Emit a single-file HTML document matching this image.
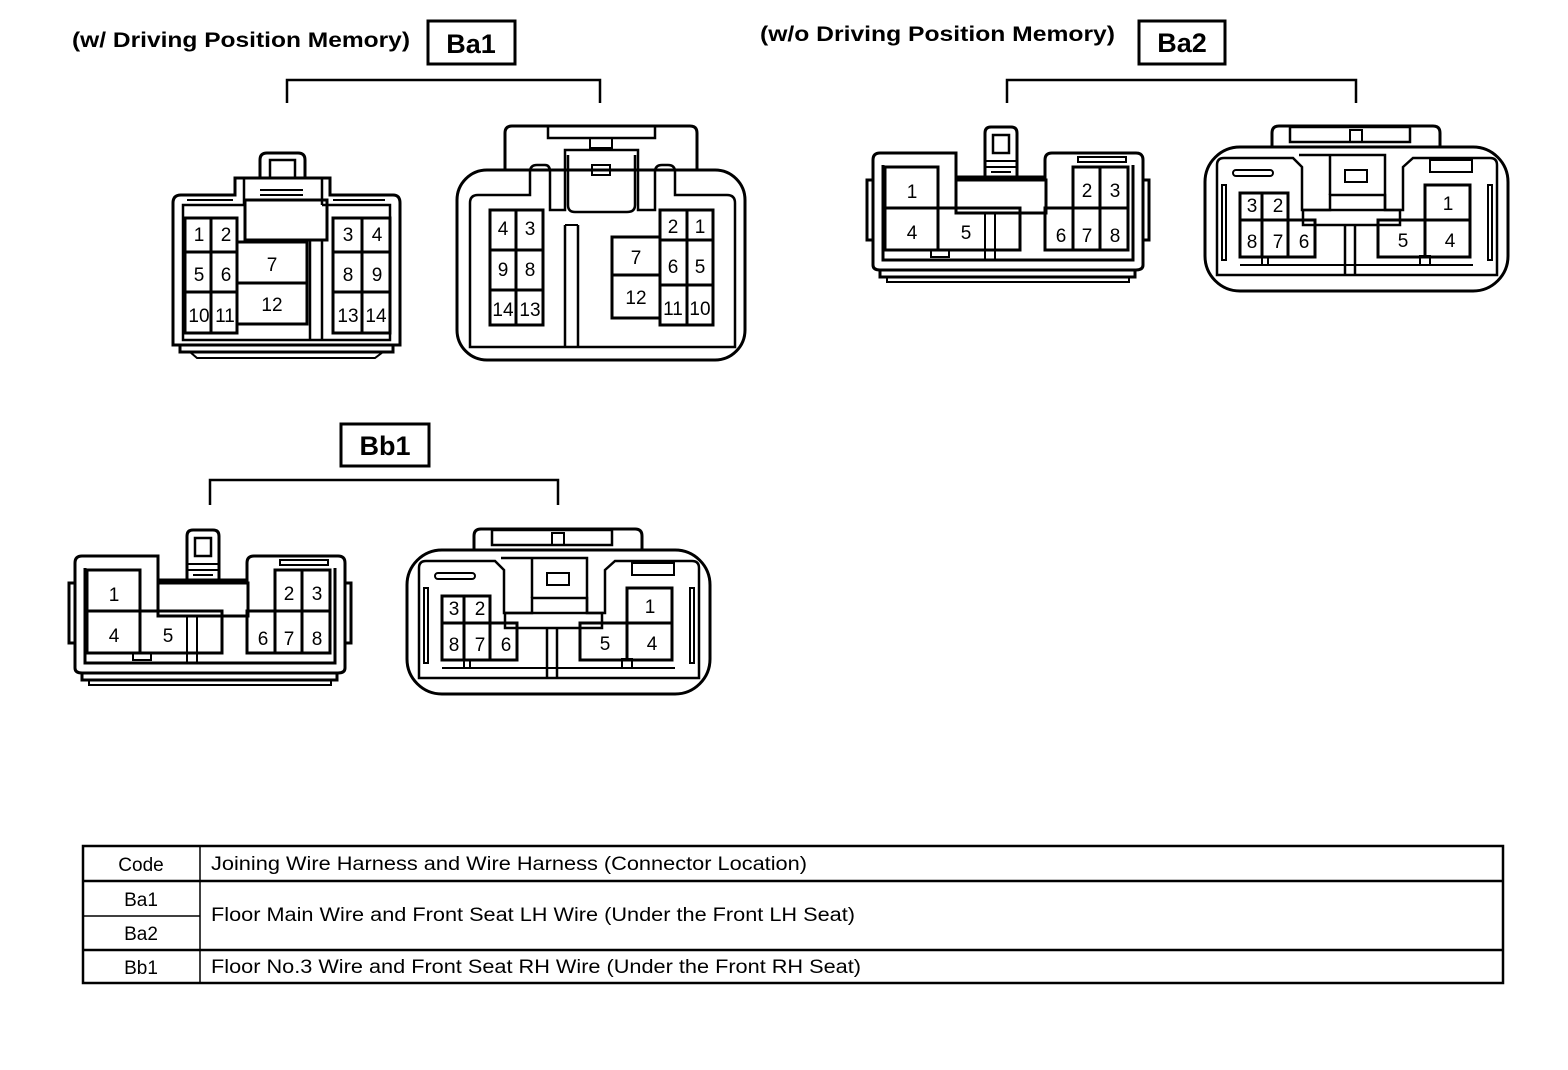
<!DOCTYPE html>
<html><head><meta charset="utf-8"><style>
html,body{margin:0;padding:0;background:#fff}
svg{display:block}
text{font-family:"Liberation Sans",Arial,sans-serif;fill:#000}
</style></head><body>
<svg width="1568" height="1070" viewBox="0 0 1568 1070" xmlns="http://www.w3.org/2000/svg">
<defs>
<g id="ba2" fill="none" stroke="#000" stroke-width="3">
  <path d="M0 35 Q0 28 7 28 H83 V52 H172 V35 Q172 28 179 28 H263 Q270 28 270 35 V140 Q270 145 263 145 H7 Q0 145 0 140 Z"/>
  <path d="M7 145 V152 H262 V145"/>
  <path d="M14 152 V157 H256 V152" stroke-width="2"/>
  <rect x="-6" y="55" width="6" height="60"/>
  <rect x="270" y="55" width="6" height="60"/>
  <path d="M10 40 V135 H260 V40"/>
  <rect x="12" y="42" width="53" height="83"/>
  <line x1="12" y1="83" x2="147" y2="83"/>
  <rect x="65" y="83" width="82" height="42"/>
  <rect x="83" y="55" width="90" height="33"/>
  <path d="M112 52 V8 Q112 2 118 2 H138 Q144 2 144 8 V52"/>
  <rect x="120" y="10" width="16" height="18" stroke-width="2.5"/>
  <path d="M113 36 H143 M113 42 H143 M118 47 H138" stroke-width="2"/>
  <path d="M112 88 V135 M122 88 V135" stroke-width="2"/>
  <rect x="58" y="125" width="18" height="7" stroke-width="2"/>
  <rect x="200" y="42" width="55" height="41"/>
  <line x1="227" y1="42" x2="227" y2="125"/>
  <rect x="172" y="83" width="83" height="42"/>
  <line x1="200" y1="83" x2="200" y2="125"/>
  <rect x="205" y="32" width="48" height="5" stroke-width="2"/>
</g>
<g id="ba2r" fill="none" stroke="#000" stroke-width="3">
  <rect x="0" y="22" width="303" height="144" rx="35"/>
  <path d="M67 22 V8 Q67 1 74 1 H228 Q235 1 235 8 V22"/>
  <rect x="85" y="2" width="120" height="15" stroke-width="2.5"/>
  <rect x="145" y="5" width="12" height="12" stroke-width="2"/>
  <path d="M12 40 Q12 33 19 33 H88 L97 42 V85 H125 V70 H180 V85 H198 V42 L208 33 H285 Q292 33 292 40 V150 H12 Z" stroke-width="2.5"/>
  <path d="M94 30 H180 V85" stroke-width="2.5"/>
  <path d="M125 30 V70" stroke-width="2.5"/>
  <rect x="140" y="45" width="22" height="12" stroke-width="2"/>
  <rect x="28" y="45" width="40" height="6" rx="3" stroke-width="2"/>
  <rect x="225" y="35" width="42" height="12" stroke-width="2"/>
  <rect x="17" y="60" width="4" height="75" stroke-width="2"/>
  <rect x="283" y="60" width="4" height="75" stroke-width="2"/>
  <rect x="35" y="68" width="48" height="27"/>
  <line x1="57" y1="68" x2="57" y2="132"/>
  <rect x="35" y="95" width="75" height="37"/>
  <line x1="83" y1="95" x2="83" y2="132"/>
  <rect x="220" y="60" width="45" height="35"/>
  <rect x="173" y="95" width="92" height="37"/>
  <line x1="220" y1="95" x2="220" y2="132"/>
  <path d="M98 85 H195 V100 H98 Z" stroke-width="2.5"/>
  <path d="M140 100 V150 M150 100 V150" stroke-width="2.5"/>
  <path d="M35 140 H268" stroke-width="2"/>
  <rect x="57" y="132" width="6" height="8" stroke-width="2"/>
  <rect x="215" y="131" width="10" height="9" stroke-width="2"/>
</g>
</defs>

<text x="72" y="47" font-size="21" font-weight="bold" textLength="338" lengthAdjust="spacingAndGlyphs">(w/ Driving Position Memory)</text>
<rect x="428" y="21" width="87" height="43" fill="none" stroke="#000" stroke-width="3"/>
<text x="471" y="53" font-size="27" font-weight="bold" text-anchor="middle">Ba1</text>
<text x="760" y="41" font-size="21" font-weight="bold" textLength="355" lengthAdjust="spacingAndGlyphs">(w/o Driving Position Memory)</text>
<rect x="1139" y="21" width="86" height="43" fill="none" stroke="#000" stroke-width="3"/>
<text x="1182" y="52" font-size="27" font-weight="bold" text-anchor="middle">Ba2</text>
<rect x="341" y="424" width="88" height="42" fill="none" stroke="#000" stroke-width="3"/>
<text x="385" y="455" font-size="27" font-weight="bold" text-anchor="middle">Bb1</text>

<g fill="none" stroke="#000" stroke-width="2.5">
<path d="M287 103 V80 H600 V103"/>
<path d="M1007 103 V80 H1356 V103"/>
<path d="M210 505 V480 H558 V505"/>
</g>

<!-- Ba1 left -->
<g fill="none" stroke="#000" stroke-width="3">
  <path d="M173 203 Q173 195 181 195 H235 V178 H330 V195 H393 Q400 195 400 203 V345 H173 Z"/>
  <path d="M180 345 V352 H393 V345"/>
  <path d="M190 352 L197 358 H375 L383 352" stroke-width="2"/>
  <path d="M260 178 V160 Q260 153 267 153 H298 Q305 153 305 160 V178"/>
  <rect x="270" y="160" width="25" height="18" stroke-width="2.5"/>
  <path d="M244 178 V205 M322 178 V205" stroke-width="2.5"/>
  <path d="M244 205 H183 V340 H390 V205 H322" stroke-width="2.5"/>
  <path d="M187 200 H233 M333 200 H385" stroke-width="2"/>
  <rect x="245" y="200" width="82" height="40"/>
  <path d="M260 190 H303 M260 195 H303" stroke-width="2"/>
  <path d="M310 240 V340 M322 240 V340" stroke-width="2.5"/>
  <rect x="185" y="218" width="52" height="115"/>
  <line x1="211" y1="218" x2="211" y2="333"/>
  <line x1="185" y1="252" x2="237" y2="252"/>
  <line x1="185" y1="292" x2="237" y2="292"/>
  <rect x="237" y="242" width="70" height="82"/>
  <line x1="237" y1="283" x2="307" y2="283"/>
  <rect x="333" y="218" width="57" height="115"/>
  <line x1="362" y1="218" x2="362" y2="333"/>
  <line x1="333" y1="252" x2="390" y2="252"/>
  <line x1="333" y1="292" x2="390" y2="292"/>
</g>
<g font-size="19" text-anchor="middle">
<text x="199" y="241">1</text><text x="226" y="241">2</text>
<text x="199" y="281">5</text><text x="226" y="281">6</text>
<text x="199" y="322">10</text><text x="225" y="322">11</text>
<text x="272" y="271">7</text><text x="272" y="311">12</text>
<text x="348" y="241">3</text><text x="377" y="241">4</text>
<text x="348" y="281">8</text><text x="377" y="281">9</text>
<text x="348" y="322">13</text><text x="376" y="322">14</text>
</g>

<!-- Ba1 right -->
<g fill="none" stroke="#000" stroke-width="3">
  <path d="M505 170 V133 Q505 126 512 126 H690 Q697 126 697 133 V170"/>
  <rect x="457" y="170" width="288" height="190" rx="30"/>
  <rect x="548" y="126" width="107" height="12" stroke-width="2.5"/>
  <rect x="590" y="138" width="22" height="10" stroke-width="2"/>
  <path d="M478 195 H530 V172 Q530 165 537 165 H545 Q550 165 550 172 V210 H565 V150 H638 V210 H655 V172 Q655 165 662 165 H668 Q675 165 675 172 V195 H727 Q735 195 735 203 V347 H470 V203 Q470 195 478 195" stroke-width="2.5"/>
  <path d="M568 155 V205 Q568 212 575 212 H627 Q635 212 635 205 V155" stroke-width="2.5"/>
  <rect x="592" y="165" width="18" height="10" stroke-width="2"/>
  <path d="M565 225 V347 M578 225 V347" stroke-width="2.5"/>
  <path d="M565 225 H578" stroke-width="2"/>
  <rect x="490" y="210" width="53" height="115"/>
  <line x1="516" y1="210" x2="516" y2="325"/>
  <line x1="490" y1="250" x2="543" y2="250"/>
  <line x1="490" y1="290" x2="543" y2="290"/>
  <rect x="660" y="210" width="53" height="115"/>
  <line x1="687" y1="210" x2="687" y2="325"/>
  <line x1="660" y1="240" x2="713" y2="240"/>
  <line x1="660" y1="285" x2="713" y2="285"/>
  <rect x="612" y="237" width="48" height="81"/>
  <line x1="612" y1="275" x2="660" y2="275"/>
</g>
<g font-size="19" text-anchor="middle">
<text x="503" y="235">4</text><text x="530" y="235">3</text>
<text x="503" y="276">9</text><text x="530" y="276">8</text>
<text x="503" y="316">14</text><text x="530" y="316">13</text>
<text x="673" y="233">2</text><text x="700" y="233">1</text>
<text x="673" y="273">6</text><text x="700" y="273">5</text>
<text x="673" y="315">11</text><text x="700" y="315">10</text>
<text x="636" y="264">7</text><text x="636" y="304">12</text>
</g>

<use href="#ba2" x="873" y="125"/>
<use href="#ba2r" x="1205" y="125"/>
<g font-size="19" text-anchor="middle">
<text x="912" y="198">1</text><text x="912" y="239">4</text><text x="966" y="239">5</text>
<text x="1087" y="197">2</text><text x="1115" y="197">3</text>
<text x="1061" y="242">6</text><text x="1087" y="242">7</text><text x="1115" y="242">8</text>
<text x="1252" y="212">3</text><text x="1278" y="212">2</text>
<text x="1252" y="248">8</text><text x="1278" y="248">7</text><text x="1304" y="248">6</text>
<text x="1448" y="210">1</text><text x="1403" y="247">5</text><text x="1450" y="247">4</text>
</g>

<use href="#ba2" x="75" y="528"/>
<use href="#ba2r" x="407" y="528"/>
<g font-size="19" text-anchor="middle">
<text x="114" y="601">1</text><text x="114" y="642">4</text><text x="168" y="642">5</text>
<text x="289" y="600">2</text><text x="317" y="600">3</text>
<text x="263" y="645">6</text><text x="289" y="645">7</text><text x="317" y="645">8</text>
<text x="454" y="615">3</text><text x="480" y="615">2</text>
<text x="454" y="651">8</text><text x="480" y="651">7</text><text x="506" y="651">6</text>
<text x="650" y="613">1</text><text x="605" y="650">5</text><text x="652" y="650">4</text>
</g>

<g fill="none" stroke="#000">
<rect x="83" y="846" width="1420" height="137" stroke-width="2.5"/>
<line x1="83" y1="881" x2="1503" y2="881" stroke-width="2.5"/>
<line x1="83" y1="916" x2="200" y2="916" stroke-width="1.5"/>
<line x1="83" y1="950" x2="1503" y2="950" stroke-width="2.5"/>
<line x1="200" y1="846" x2="200" y2="983" stroke-width="1.5"/>
</g>
<g font-size="19">
<text x="141" y="871" text-anchor="middle">Code</text>
<text x="141" y="906" text-anchor="middle">Ba1</text>
<text x="141" y="940" text-anchor="middle">Ba2</text>
<text x="141" y="974" text-anchor="middle">Bb1</text>
<text x="211" y="870" textLength="596" lengthAdjust="spacingAndGlyphs">Joining Wire Harness and Wire Harness (Connector Location)</text>
<text x="211" y="921" textLength="644" lengthAdjust="spacingAndGlyphs">Floor Main Wire and Front Seat LH Wire (Under the Front LH Seat)</text>
<text x="211" y="973" textLength="650" lengthAdjust="spacingAndGlyphs">Floor No.3 Wire and Front Seat RH Wire (Under the Front RH Seat)</text>
</g>
</svg>
</body></html>
